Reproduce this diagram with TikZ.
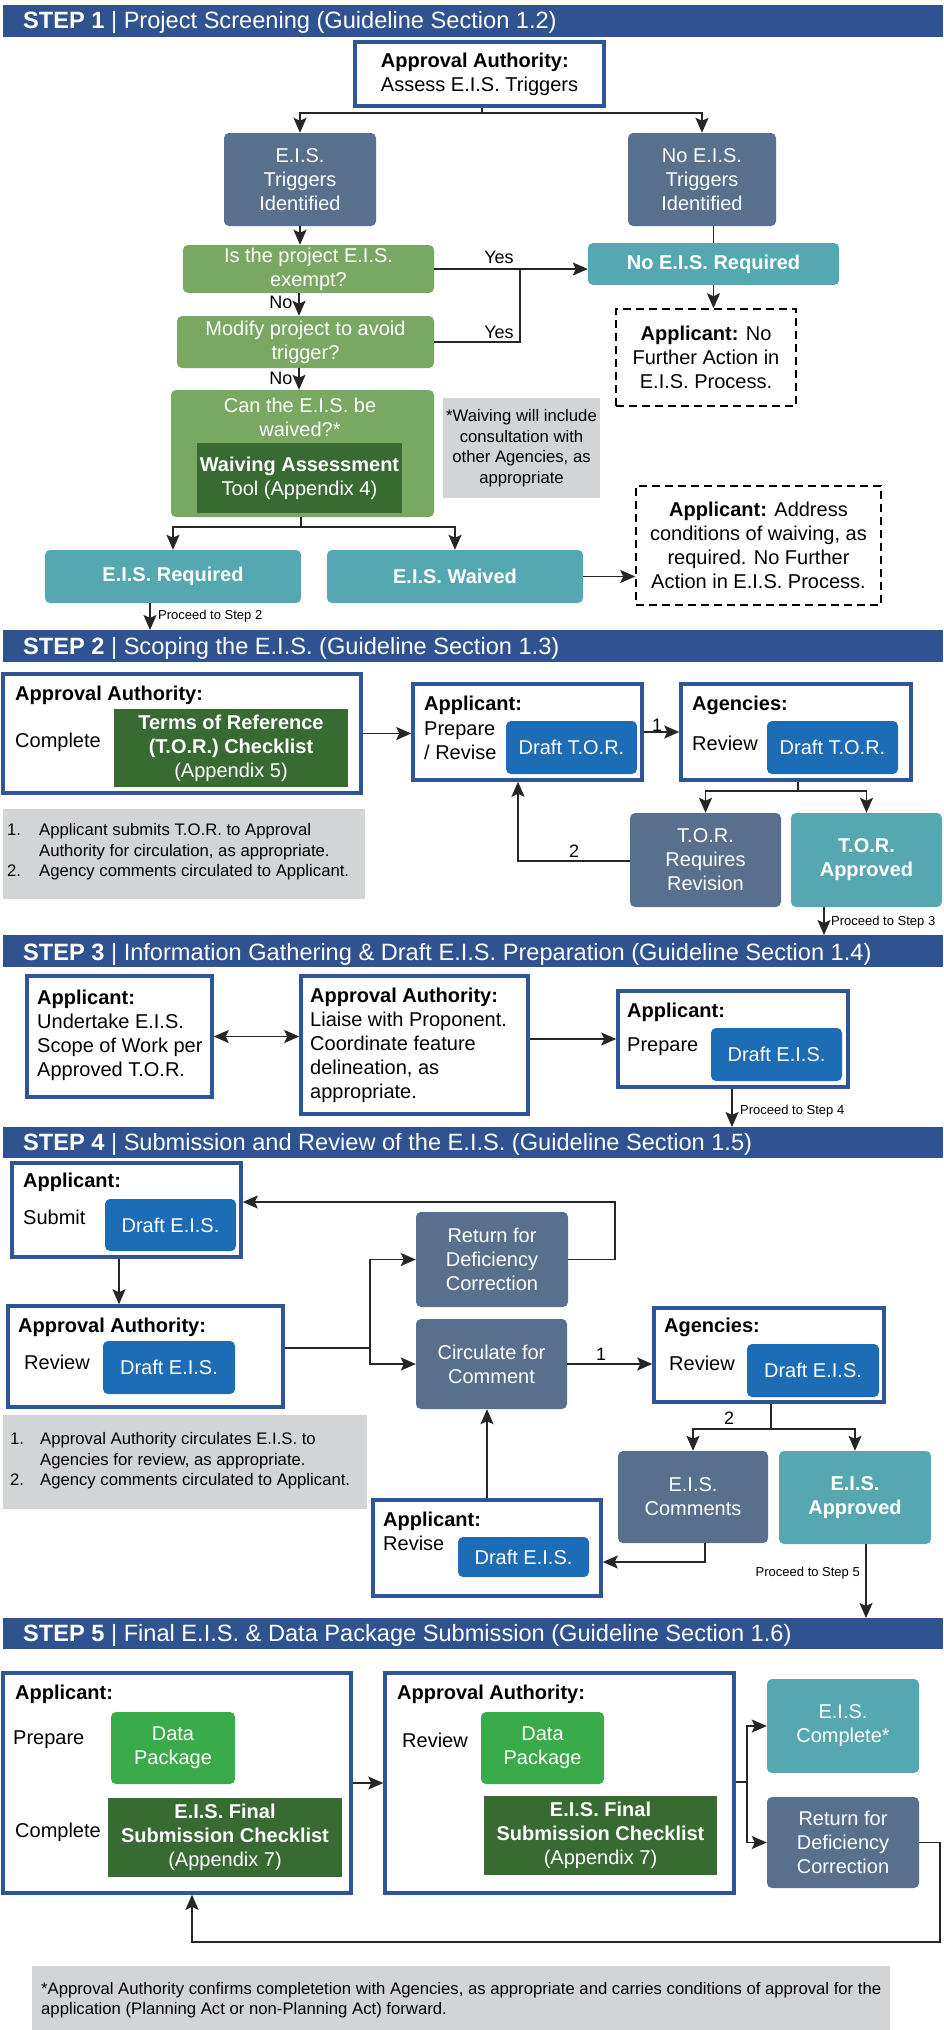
\documentclass[tikz,border=0pt]{standalone}
\usepackage{fontspec}
\setmainfont{Liberation Sans}
\usetikzlibrary{arrows.meta}
\definecolor{cHdr}{HTML}{2F5390}
\definecolor{cBorder}{HTML}{2F5597}
\definecolor{cSlate}{HTML}{596F8E}
\definecolor{cLgr}{HTML}{78A862}
\definecolor{cDgr}{HTML}{376B32}
\definecolor{cTeal}{HTML}{55A8B1}
\definecolor{cBlue}{HTML}{1D6CB6}
\definecolor{cBgr}{HTML}{3AAB4A}
\definecolor{cGray}{HTML}{D3D4D6}
\definecolor{cLine}{HTML}{262626}
\newcommand\myfs[2]{\fontsize{#1}{#2}\selectfont}
\newcommand\mkbox[7]{\node[#1, minimum width={(#5)-(#3)}, minimum height={(#6)-(#4)}] (#2) at ({((#3)+(#5))/2},{((#4)+(#6))/2}) {#7};}
\tikzset{
  cbox/.style={inner sep=0pt, align=center, text=white, font=\myfs{20}{24}, rounded corners=5pt},
  slate/.style={cbox, fill=cSlate},
  lgr/.style={cbox, fill=cLgr},
  dgr/.style={cbox, fill=cDgr, sharp corners},
  teal/.style={cbox, fill=cTeal},
  tealb/.style={cbox, fill=cTeal, font=\myfs{20}{24}\bfseries},
  blu/.style={cbox, fill=cBlue},
  bgr/.style={cbox, fill=cBgr},
  wbox/.style={draw=cBorder, line width=3.5pt, fill=white, inner sep=0pt, align=left, text=black, font=\myfs{20}{24}},
  dbox/.style={draw=black, line width=1.5pt, dash pattern=on 8pt off 5pt, inner sep=0pt, align=center, text=black, font=\myfs{20}{24}},
  note/.style={fill=cGray, inner sep=0pt, text=black},
  notetxt/.style={inner sep=0pt, text=black, anchor=west, align=left, font=\myfs{16.7}{20.5}},
  hdr/.style={fill=cHdr, inner sep=0pt, minimum width=940, minimum height=32, anchor=north west},
  htxt/.style={inner sep=0pt, text=white, font=\myfs{23.6}{26}, anchor=base west},
  lbl/.style={inner sep=0pt, text=black, font=\myfs{20}{24}, anchor=west, align=left},
  lblb/.style={lbl, font=\myfs{20}{24}\bfseries},
  small/.style={inner sep=0pt, text=black, font=\myfs{13}{15}, anchor=west},
  tag/.style={inner sep=0pt, text=black, font=\myfs{18}{20}},
  ln/.style={draw=cLine, line width=1.8pt},
  tip/.tip={Stealth[length=15pt,width=13pt,inset=3pt]},
  arr/.style={ln, -tip},
  darr/.style={ln, tip-tip},
}
\begin{document}
\begin{tikzpicture}[x=1pt,y=-1pt]
\useasboundingbox (0,0) rectangle (943,2030);
\fill[white] (0,0) rectangle (943,2030);

% ---------------- STEP 1 ----------------
\node[hdr] (h1) at (3,5) {};
\node[htxt] (h1t) at (23,28) {\textbf{STEP 1} | Project Screening (Guideline Section 1.2)};
\mkbox{wbox}{aa1}{355}{42}{604}{106}{\textbf{Approval Authority:}\\Assess E.I.S. Triggers}
\mkbox{slate}{trig}{224}{133}{376}{226}{E.I.S.\\Triggers\\Identified}
\mkbox{slate}{notrig}{628}{133}{776}{226}{No E.I.S.\\Triggers\\Identified}
\mkbox{lgr}{exempt}{183}{245}{434}{293}{Is the project E.I.S.\\exempt?}
\mkbox{lgr}{modify}{177}{316}{434}{368}{Modify project to avoid\\trigger?}
\mkbox{lgr}{waive}{171}{390}{434}{517}{}
\node[cbox] (waivet) at (300,417) {Can the E.I.S. be\\waived?*};
\mkbox{dgr}{wat}{197}{443}{402}{513}{\textbf{Waiving Assessment}\\Tool (Appendix 4)}
\mkbox{tealb}{noreq}{588}{243}{839}{285}{No E.I.S. Required}
\mkbox{dbox}{dash1}{616}{309}{796}{406}{\textbf{Applicant:} No\\Further Action in\\E.I.S. Process.}
\mkbox{note, align=center, font=\myfs{16.7}{20.5}}{gray1}{443}{398}{600}{498}{*Waiving will include\\consultation with\\other Agencies, as\\appropriate}
\mkbox{tealb}{reqd}{45}{550}{301}{603}{E.I.S. Required}
\mkbox{tealb}{waived}{327}{550}{583}{603}{E.I.S. Waived}
\mkbox{dbox}{dash2}{636}{486}{881}{605}{\textbf{Applicant:} Address\\conditions of waiving, as\\required. No Further\\Action in E.I.S. Process.}

\coordinate (j1) at (482,113);
\draw[arr] (aa1.south -| j1) -- (j1) -| (trig.north);
\draw[arr] (j1) -| (notrig.north);
\draw[arr] (trig.south) -- (trig.south |- exempt.north);
\draw[ln] (notrig.south -| noreq.north) -- (noreq.north);
\draw[arr] (exempt.east) -- (exempt.east -| noreq.west);
\node[tag] (yes1) at (499,257) {Yes};
\coordinate (j2) at (520,269);
\draw[ln] (modify.east) -| (j2);
\node[tag] (yes2) at (499,332) {Yes};
\coordinate (jx) at (299,0);
\draw[arr] (exempt.south -| jx) -- (modify.north -| jx);
\node[tag] (no1) at (281,302) {No};
\draw[arr] (modify.south -| jx) -- (waive.north -| jx);
\node[tag] (no2) at (281,378) {No};
\draw[arr] (noreq.south) -- (noreq.south |- dash1.north);
\coordinate (j3) at (301,527);
\draw[arr] (waive.south -| j3) -- (j3) -| (reqd.north);
\draw[arr] (j3) -| (waived.north);
\draw[arr] (waived.east) -- (waived.east -| dash2.west);

% ---------------- STEP 2 ----------------
\node[hdr] (h2) at (3,630) {};
\node[htxt] (h2t) at (23,654) {\textbf{STEP 2} | Scoping the E.I.S. (Guideline Section 1.3)};
\coordinate (p2) at (150,630);
\draw[arr] (reqd.south -| p2) -- (p2);
\node[small] (p2t) at (158,616) {Proceed to Step 2};

\mkbox{wbox}{aa2}{3}{674}{361}{793}{}
\node[lblb] (aa2a) at (15,695) {Approval Authority:};
\node[lbl] (aa2b) at (15,742) {Complete};
\mkbox{dgr}{torck}{114}{709}{348}{787}{\textbf{Terms of Reference}\\\textbf{(T.O.R.) Checklist}\\(Appendix 5)}
\mkbox{wbox}{app2}{413}{684}{642}{780}{}
\node[lblb] (app2a) at (424,705) {Applicant:};
\node[lbl] (app2b) at (424,741) {Prepare\\/ Revise};
\mkbox{blu}{dtor1}{506}{721}{637}{774}{Draft T.O.R.}
\mkbox{wbox}{ag2}{681}{684}{911}{780}{}
\node[lblb] (ag2a) at (692,705) {Agencies:};
\node[lbl] (ag2b) at (692,743) {Review};
\mkbox{blu}{dtor2}{767}{721}{898}{774}{Draft T.O.R.}
\mkbox{slate}{torrev}{630}{813}{781}{907}{T.O.R.\\Requires\\Revision}
\mkbox{tealb}{torapp}{791}{813}{942}{907}{T.O.R.\\Approved}
\mkbox{note}{gray2}{3}{809}{365}{899}{}
\node[notetxt] (gray2t) at (7,852) {\begin{tabular}{@{}l@{\hspace{18pt}}l@{}}1. & Applicant submits T.O.R. to Approval\\ & Authority for circulation, as appropriate.\\2. & Agency comments circulated to Applicant.\end{tabular}};

\draw[arr] (aa2.east) -- (aa2.east -| app2.west);
\draw[arr] (app2.east) -- (app2.east -| ag2.west);
\node[tag] (one2) at (657,725) {1};
\coordinate (j4) at (798,791);
\draw[arr] (ag2.south -| j4) -- (j4) -| (torrev.north);
\draw[arr] (j4) -| (torapp.north);
\coordinate (j5) at (518,861);
\draw[arr] (torrev.west |- j5) -- (j5) -- (j5 |- app2.south);
\node[tag] (two2) at (574,851) {2};

% ---------------- STEP 3 ----------------
\node[hdr] (h3) at (3,935) {};
\node[htxt] (h3t) at (23,960) {\textbf{STEP 3} | Information Gathering \& Draft E.I.S. Preparation (Guideline Section 1.4)};
\coordinate (p3) at (824,935);
\draw[arr] (torapp.south -| p3) -- (p3);
\node[small] (p3t) at (831,922) {Proceed to Step 3};

\mkbox{wbox}{app3a}{27}{976}{212}{1097}{}
\node[lbl] (app3at) at (37,1035) {\textbf{Applicant:}\\Undertake E.I.S.\\Scope of Work per\\Approved T.O.R.};
\mkbox{wbox}{aa3}{301}{976}{528}{1114}{}
\node[lbl] (aa3t) at (310,1045) {\textbf{Approval Authority:}\\Liaise with Proponent.\\Coordinate feature\\delineation, as\\appropriate.};
\mkbox{wbox}{app3b}{618}{991}{848}{1087}{}
\node[lblb] (app3ba) at (627,1012) {Applicant:};
\node[lbl] (app3bb) at (627,1047) {Prepare};
\mkbox{blu}{deis3}{711}{1028}{842}{1081}{Draft E.I.S.}
\draw[darr] (app3a.east) -- (app3a.east -| aa3.west);
\draw[arr] (aa3.east |- app3b.west) -- (app3b.west);

% ---------------- STEP 4 ----------------
\node[hdr, minimum height=31] (h4) at (3,1127) {};
\node[htxt] (h4t) at (23,1150) {\textbf{STEP 4} | Submission and Review of the E.I.S. (Guideline Section 1.5)};
\coordinate (p4) at (732,1127);
\draw[arr] (app3b.south -| p4) -- (p4);
\node[small] (p4t) at (740,1111) {Proceed to Step 4};

\mkbox{wbox}{app4}{12}{1163}{241}{1257}{}
\node[lblb] (app4a) at (23,1182) {Applicant:};
\node[lbl] (app4b) at (23,1217) {Submit};
\mkbox{blu}{deis4a}{105}{1199}{236}{1251}{Draft E.I.S.}
\mkbox{wbox}{aa4}{8}{1306}{283}{1407}{}
\node[lblb] (aa4a) at (18,1327) {Approval Authority:};
\node[lbl] (aa4b) at (24,1362) {Review};
\mkbox{blu}{deis4b}{103}{1341}{235}{1394}{Draft E.I.S.}
\mkbox{slate}{ret4}{416}{1212}{568}{1307}{Return for\\Deficiency\\Correction}
\mkbox{slate}{circ}{416}{1319}{567}{1409}{Circulate for\\Comment}
\mkbox{wbox}{ag4}{654}{1308}{884}{1402}{}
\node[lblb] (ag4a) at (664,1327) {Agencies:};
\node[lbl] (ag4b) at (669,1363) {Review};
\mkbox{blu}{deis4c}{747}{1344}{879}{1397}{Draft E.I.S.}
\mkbox{slate}{comm}{618}{1451}{768}{1543}{E.I.S.\\Comments}
\mkbox{tealb}{app4ok}{779}{1451}{931}{1544}{E.I.S.\\Approved}
\mkbox{wbox}{rev4}{373}{1500}{601}{1596}{}
\node[lblb] (rev4a) at (383,1521) {Applicant:};
\node[lbl] (rev4b) at (383,1543) {Revise};
\mkbox{blu}{deis4d}{458}{1537}{589}{1577}{Draft E.I.S.}
\mkbox{note}{gray4}{3}{1415}{367}{1509}{}
\node[notetxt] (gray4t) at (10,1461) {\begin{tabular}{@{}l@{\hspace{16pt}}l@{}}1. & Approval Authority circulates E.I.S. to\\ & Agencies for review, as appropriate.\\2. & Agency comments circulated to Applicant.\end{tabular}};

\coordinate (k1) at (119,0);
\draw[arr] (app4.south -| k1) -- (aa4.north -| k1);
\coordinate (k4) at (615,1202);
\draw[arr] (ret4.east) -| (k4) -- (k4 -| app4.east);
\coordinate (k5) at (370,1348);
\draw[ln] (aa4.east |- k5) -- (k5);
\draw[arr] (k5) |- (ret4.west);
\draw[arr] (k5) |- (circ.west);
\draw[arr] (circ.east) -- (circ.east -| ag4.west);
\node[tag] (one4) at (601,1354) {1};
\coordinate (k6) at (771,1429);
\draw[arr] (ag4.south -| k6) -- (k6) -| (comm.north);
\draw[arr] (k6) -| (app4ok.north);
\node[tag] (two4) at (729,1418) {2};
\coordinate (k7) at (705,1562);
\draw[arr] (comm.south -| k7) -- (k7) -- (k7 -| rev4.east);
\draw[arr] (rev4.north) -- (rev4.north |- circ.south);

% ---------------- STEP 5 ----------------
\node[hdr, minimum height=31] (h5) at (3,1618) {};
\node[htxt] (h5t) at (23,1641) {\textbf{STEP 5} | Final E.I.S. \& Data Package Submission (Guideline Section 1.6)};
\coordinate (p5) at (866,1618);
\draw[arr] (app4ok.south -| p5) -- (p5);
\node[small, anchor=east] (p5t) at (860,1573) {Proceed to Step 5};

\mkbox{wbox}{app5}{3}{1673}{351}{1893}{}
\node[lblb] (app5a) at (15,1694) {Applicant:};
\node[lbl] (app5b) at (13,1740) {Prepare};
\node[lbl] (app5c) at (15,1832) {Complete};
\mkbox{bgr}{dp1}{111}{1712}{235}{1784}{Data\\Package}
\mkbox{dgr}{fc1}{108}{1798}{342}{1877}{\textbf{E.I.S. Final}\\\textbf{Submission Checklist}\\(Appendix 7)}
\mkbox{wbox}{aa5}{385}{1673}{734}{1893}{}
\node[lblb] (aa5a) at (397,1694) {Approval Authority:};
\node[lbl] (aa5b) at (402,1740) {Review};
\mkbox{bgr}{dp2}{481}{1712}{604}{1784}{Data\\Package}
\mkbox{dgr}{fc2}{484}{1796}{717}{1875}{\textbf{E.I.S. Final}\\\textbf{Submission Checklist}\\(Appendix 7)}
\mkbox{teal}{compl}{767}{1679}{919}{1773}{E.I.S.\\Complete*}
\mkbox{slate}{ret5}{767}{1797}{919}{1888}{Return for\\Deficiency\\Correction}
\mkbox{note}{foot}{32}{1966}{890}{2040}{}
\node[notetxt, font=\myfs{16.7}{20}] (foott) at (41,2000) {*Approval Authority confirms completetion with Agencies, as appropriate and carries conditions of approval for the\\application (Planning Act or non-Planning Act) forward.};

\draw[arr] (app5.east) -- (app5.east -| aa5.west);
\coordinate (m1) at (747,1782);
\draw[ln] (aa5.east |- m1) -- (m1);
\draw[arr] (m1) |- (compl.west);
\draw[arr] (m1) |- (ret5.west);
\coordinate (m2) at (940,1942);
\coordinate (m3) at (192,1942);
\draw[arr] (ret5.east) -| (m2) -- (m3) -- (m3 |- app5.south);
\end{tikzpicture}
\end{document}
